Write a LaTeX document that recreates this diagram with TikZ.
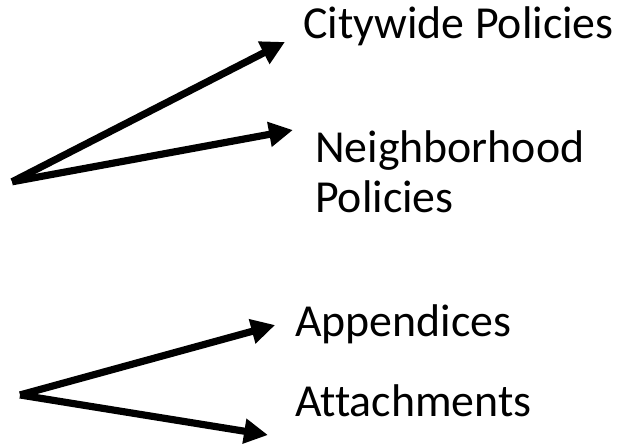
\documentclass[tikz,border=0pt]{standalone}
\usepackage{fontspec}
\setmainfont{Carlito}[Ligatures=NoCommon]
\usetikzlibrary{arrows.meta}

\tikzset{
	branch/.style={line width=5.4pt, black, -{Triangle[length=18pt, width=18pt]}},
	label/.style={anchor=base west, inner sep=0pt, font=\fontsize{34.5}{40}\selectfont}
}

\begin{document}
\begin{tikzpicture}
		\useasboundingbox (0,0) rectangle (16.96,11.85);
		
		% WRITE THE LABELS
		\node[label] (citywide) at (8.02,10.82) {Citywide Policies};
		\node[label] (neighbor) at (8.33,7.54) {Neighborhood};
		\node[label] (policies) at (8.33,6.22) {Policies};
		\node[label] (appendix) at (7.80,2.94) {Appendices};
		\node[label] (attach) at (7.80,0.82) {Attachments};
		
		% PLACE THE ORIGINS AND TIPS
		\coordinate (topfork) at (0.32,7.04);
		\coordinate (tipcity) at (7.54,10.74);
		\coordinate (tipneigh) at (7.75,8.41);
		
		\coordinate (lowfork) at (0.53,1.40);
		\coordinate (tipapp) at (7.28,3.25);
		\coordinate (tipatt) at (7.09,0.34);
		
		% DRAW THE ARROWS
		\draw[branch] (topfork) -- (tipcity);
		\draw[branch] (topfork) -- (tipneigh);
		
		\draw[branch] (lowfork) -- (tipapp);
		\draw[branch] (lowfork) -- (tipatt);
	\end{tikzpicture}
\end{document}
